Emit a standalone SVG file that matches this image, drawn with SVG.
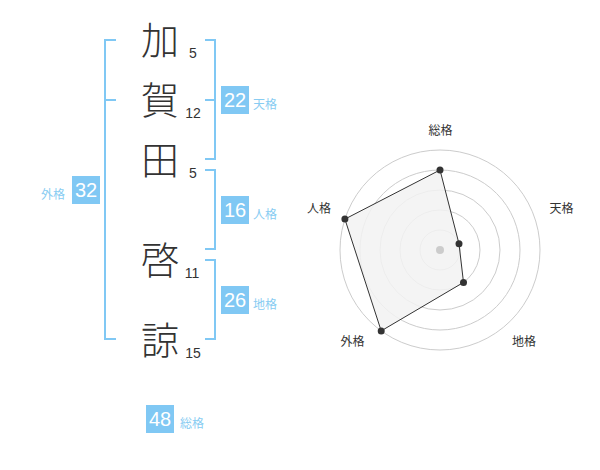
<svg xmlns="http://www.w3.org/2000/svg" width="600" height="470" viewBox="0 0 600 470">
<style>
.ch{font-family:"Noto Sans CJK JP","Noto Sans CJK SC",sans-serif;font-size:38px;font-weight:300;fill:#333;text-anchor:middle}
.num{font-family:"Liberation Sans",Arial,sans-serif;font-size:14px;fill:#333;text-anchor:middle}
.br{fill:none;stroke:#80c8f4;stroke-width:2}
.box{fill:#80c8f4}
.bt{font-family:"Liberation Sans",Arial,sans-serif;font-size:20px;fill:#fff;text-anchor:middle}
.lb{font-family:"Noto Sans CJK JP",sans-serif;font-size:12px;fill:#88ccf2}
.rl{font-family:"Noto Sans CJK JP",sans-serif;font-size:12px;fill:#333;text-anchor:middle}
.ring{fill:none;stroke:#ccc;stroke-width:1}
.pt{fill:#333}
</style>
<rect width="600" height="470" fill="#fff"/>
<g id="chars">
<text class="ch" x="160" y="54">加</text>
<text class="ch" x="160" y="114">賀</text>
<text class="ch" x="160" y="174">田</text>
<text class="ch" x="160" y="274">啓</text>
<text class="ch" x="160" y="354">諒</text>
<text class="num" x="193" y="57.5">5</text>
<text class="num" x="193" y="117.5">12</text>
<text class="num" x="193" y="177.5">5</text>
<text class="num" x="192" y="277.5">11</text>
<text class="num" x="193" y="357.5">15</text>
</g>
<g id="connectors">
<path class="br" d="M116,40 H105 V339 H116 M105,100 H116"/>
<path class="br" d="M205,40 H215 V159 H205 M205,100 H215"/>
<path class="br" d="M205,170 H215 V249 H205"/>
<path class="br" d="M205,260 H215 V339 H205"/>
</g>
<g id="tenkaku">
<rect class="box" x="221" y="86" width="28" height="28"/>
<text class="bt" x="235" y="107">22</text>
<text class="lb" x="253" y="109">天格</text>
</g>
<g id="jinkaku">
<rect class="box" x="221" y="196" width="28" height="28"/>
<text class="bt" x="235" y="217">16</text>
<text class="lb" x="253" y="219">人格</text>
</g>
<g id="chikaku">
<rect class="box" x="221" y="286" width="28" height="28"/>
<text class="bt" x="235" y="307">26</text>
<text class="lb" x="253" y="309">地格</text>
</g>
<g id="gaikaku">
<rect class="box" x="72" y="176" width="28" height="28"/>
<text class="bt" x="86" y="197">32</text>
<text class="lb" x="41" y="199">外格</text>
</g>
<g id="soukaku">
<rect class="box" x="146" y="405" width="28" height="28"/>
<text class="bt" x="160" y="426">48</text>
<text class="lb" x="180" y="428">総格</text>
</g>
<g id="radar">
<circle class="ring" cx="440" cy="250" r="20"/>
<circle class="ring" cx="440" cy="250" r="40"/>
<circle class="ring" cx="440" cy="250" r="60"/>
<circle class="ring" cx="440" cy="250" r="80"/>
<circle class="ring" cx="440" cy="250" r="100"/>
<polygon points="440,170 459,243.8 463.5,282.4 381.2,330.9 344.9,219.1" fill="#f2f2f2" fill-opacity="0.85" stroke="#333" stroke-width="1"/>
<circle cx="440" cy="250" r="4" fill="#ccc"/>
<circle class="pt" cx="440" cy="170" r="3.5"/>
<circle class="pt" cx="459" cy="243.8" r="3.5"/>
<circle class="pt" cx="463.5" cy="282.4" r="3.5"/>
<circle class="pt" cx="381.2" cy="330.9" r="3.5"/>
<circle class="pt" cx="344.9" cy="219.1" r="3.5"/>
<text class="rl" x="440.5" y="135">総格</text>
<text class="rl" x="561.5" y="212.5">天格</text>
<text class="rl" x="524" y="346">地格</text>
<text class="rl" x="352.5" y="346">外格</text>
<text class="rl" x="319" y="212.5">人格</text>
</g>
</svg>
